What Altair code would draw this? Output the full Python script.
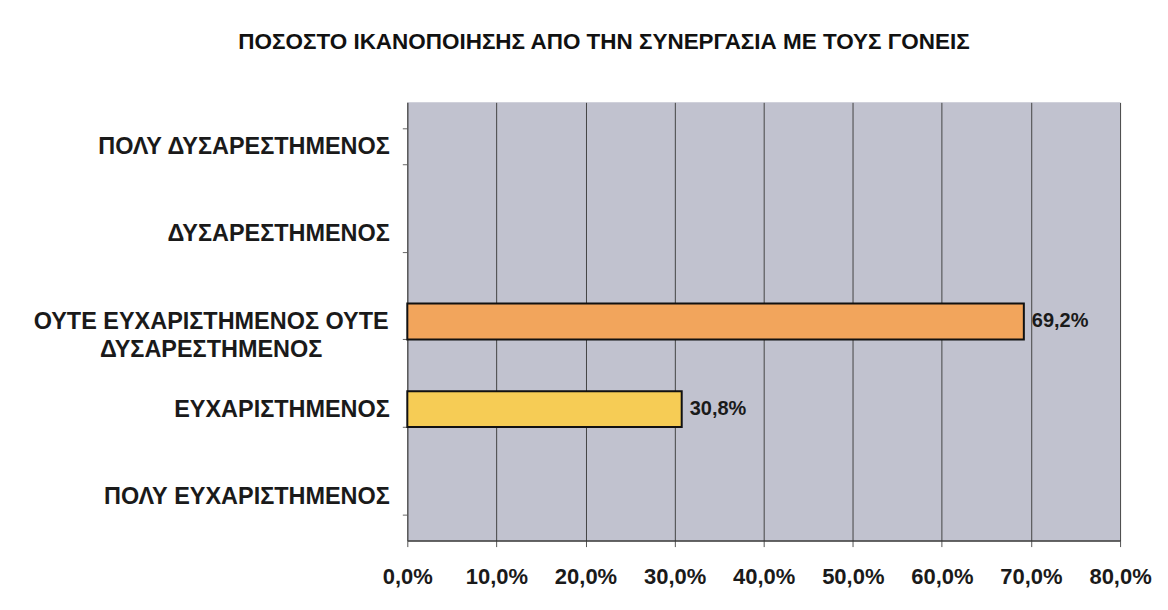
import altair as alt
import pandas as pd

categories = [
    "ΠΟΛΥ ΔΥΣΑΡΕΣΤΗΜΕΝΟΣ",
    "ΔΥΣΑΡΕΣΤΗΜΕΝΟΣ",
    "ΟΥΤΕ ΕΥΧΑΡΙΣΤΗΜΕΝΟΣ ΟΥΤΕ ΔΥΣΑΡΕΣΤΗΜΕΝΟΣ",
    "ΕΥΧΑΡΙΣΤΗΜΕΝΟΣ",
    "ΠΟΛΥ ΕΥΧΑΡΙΣΤΗΜΕΝΟΣ",
]
values = [0.0, 0.0, 0.692, 0.308, 0.0]
bar_colors = ["#F2A55C", "#F2A55C", "#F2A55C", "#F6CC55", "#F6CC55"]
x_ticks = [0.0, 0.1, 0.2, 0.3, 0.4, 0.5, 0.6, 0.7, 0.8]
title_text = "ΠΟΣΟΣΤΟ ΙΚΑΝΟΠΟΙΗΣΗΣ ΑΠΟ ΤΗΝ ΣΥΝΕΡΓΑΣΙΑ ΜΕ ΤΟΥΣ ΓΟΝΕΙΣ"

df = pd.DataFrame({"cat": categories, "value": values})
long_cat = categories[2]

label_expr = (
    f"datum.value == '{long_cat}' ? ['ΟΥΤΕ ΕΥΧΑΡΙΣΤΗΜΕΝΟΣ ΟΥΤΕ', 'ΔΥΣΑΡΕΣΤΗΜΕΝΟΣ'] : datum.label"
)
test_long = f"datum.value == '{long_cat}'"

y_scale = alt.Scale(domain=categories, paddingInner=0.59, paddingOuter=0.295)

y_enc = alt.Y(
    "cat:N",
    sort=categories,
    scale=y_scale,
    axis=alt.Axis(
        title=None,
        grid=False,
        ticks=True,
        tickBand="extent",
        tickSize=5,
        tickColor="#666666",
        domain=True,
        domainColor="#555555",
        labelExpr=label_expr,
        labelFont="Liberation Sans",
        labelFontWeight="bold",
        labelFontSize=23.5,
        labelColor="#1a1a1a",
        labelLimit=600,
        labelLineHeight=28,
        labelAlign={"condition": {"test": test_long, "value": "center"}, "value": "right"},
        labelPadding={"condition": {"test": test_long, "value": 192}, "value": 13},
    ),
)

x_enc = alt.X(
    "value:Q",
    scale=alt.Scale(domain=[0, 0.8], nice=False),
    axis=alt.Axis(
        title=None,
        values=x_ticks,
        labelExpr="replace(format(datum.value, '.1%'), '.', ',')",
        labelOverlap=False,
        labelFlush=False,
        grid=True,
        gridColor="#444444",
        gridWidth=1,
        ticks=True,
        tickSize=6,
        tickColor="#555555",
        domainColor="#333333",
        domainWidth=1.5,
        labelFont="Liberation Sans",
        labelFontWeight="bold",
        labelFontSize=22,
        labelColor="#1a1a1a",
        labelPadding=20,
    ),
)

base = alt.Chart(df).transform_filter("datum.value > 0")

bars = base.mark_bar(stroke="#111111", strokeWidth=2).encode(
    y=y_enc,
    x=x_enc,
    color=alt.Color(
        "cat:N",
        scale=alt.Scale(domain=categories, range=bar_colors),
        legend=None,
    ),
)

labels = base.mark_text(
    align="left",
    baseline="middle",
    dx=8,
    font="Liberation Sans",
    fontWeight="bold",
    fontSize=20,
    color="#1a1a1a",
).encode(
    y=alt.Y("cat:N", sort=categories, scale=y_scale),
    x=alt.X("value:Q"),
    text=alt.Text("label:N"),
).transform_calculate(label="replace(format(datum.value, '.1%'), '.', ',')")

chart = (
    alt.layer(bars, labels)
    .properties(
        width=714,
        height=439,
        autosize=alt.AutoSizeParams(type="none"),
        padding={"left": 400, "top": 94, "right": 40, "bottom": 60},
        background="white",
        title=alt.TitleParams(
            text=title_text,
            font="Liberation Sans",
            fontWeight="bold",
            fontSize=22.5,
            color="#111111",
            anchor="middle",
            dx=-160,
            offset=37,
        ),
    )
    .configure_view(fill="#C1C2CF", stroke=None)
)

chart.save("out.html", embed_options={"renderer": "svg", "actions": False})
